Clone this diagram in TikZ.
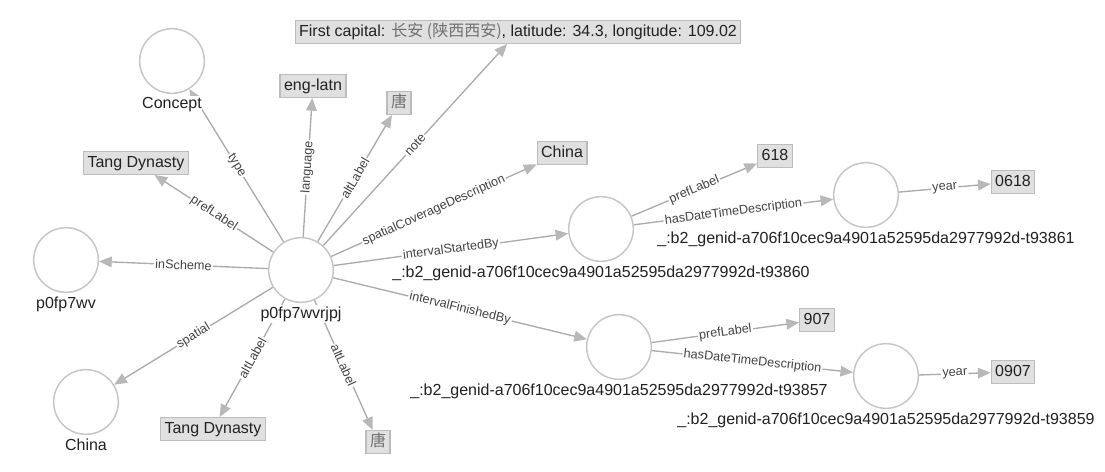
\documentclass[tikz,border=0pt]{standalone}
\usepackage{fontspec}
\setmainfont{Liberation Sans}
\newfontfamily\cjk{Noto Sans CJK SC}
\usetikzlibrary{arrows.meta,backgrounds}
\definecolor{edgec}{HTML}{ABABAB}
\definecolor{circc}{HTML}{C6C6C6}
\definecolor{boxfill}{HTML}{E0E0E0}
\definecolor{boxdraw}{HTML}{BDBDBD}
\definecolor{txt}{HTML}{222222}
\definecolor{elab}{HTML}{444444}
\definecolor{cjkc}{HTML}{707070}
\newcommand{\zh}[1]{{\cjk\color{cjkc}#1}}
\begin{document}
\begin{tikzpicture}[x=0.75pt,y=-0.75pt,
  res/.style={circle,draw=circc,line width=1.1pt,fill=white,minimum size=48.5pt,inner sep=0pt},
  nlab/.style={font=\fontsize{12}{14}\selectfont,text=txt,fill=white,inner xsep=0.5pt,inner ysep=1pt,label distance=1.5pt},
  lit/.style={rectangle,draw=boxdraw,fill=boxfill,line width=0.9pt,font=\fontsize{12}{14}\selectfont,text=txt,text height=9pt,text depth=2.5pt,inner xsep=3pt,inner ysep=2.8pt},
  rel/.style={draw=edgec,line width=1pt,-{Triangle[length=9.5pt,width=8pt,color=edgec!85!white]}},
  elabel/.style={font=\fontsize{9.5}{11}\selectfont,text=elab,fill=white,inner sep=1pt,sloped,midway}]
\useasboundingbox (0,0) rectangle (1105,471);
% resource nodes
\node[res,label={[nlab,name=lc]below:p0fp7wvrjpj}] (c) at (301,270) {};
\node[res,label={[nlab,name=lconcept]below:Concept}] (concept) at (172,61) {};
\node[res,label={[nlab,name=lscheme]below:p0fp7wv}] (scheme) at (66,260) {};
\node[res,label={[nlab,name=lchina]below:China}] (chinaR) at (86,402) {};
\node[res,label={[nlab,name=lstart]below:\_:b2\_genid-a706f10cec9a4901a52595da2977992d-t93860}] (start) at (601,229) {};
\node[res,label={[nlab,name=lstartD]below:\_:b2\_genid-a706f10cec9a4901a52595da2977992d-t93861}] (startD) at (866,195) {};
\node[res,label={[nlab,name=lfin]below:\_:b2\_genid-a706f10cec9a4901a52595da2977992d-t93857}] (fin) at (619,347) {};
\node[res,label={[nlab,name=lfinD]below:\_:b2\_genid-a706f10cec9a4901a52595da2977992d-t93859}] (finD) at (886,376) {};
% literal nodes
\node[lit] (pref) at (136,163) {Tang Dynasty};
\node[lit] (lang) at (313,86) {eng-latn};
\node[lit] (alt1) at (399,103) {\zh{唐}};
\node[lit] (note) at (518,32) {First capital: \zh{长安 (陕西西安)}, latitude: 34.3, longitude: 109.02};
\node[lit] (chinaL) at (562,153) {China};
\node[lit] (p618) at (775,156) {618};
\node[lit] (y0618) at (1013,182) {0618};
\node[lit] (p907) at (817,320) {907};
\node[lit] (y0907) at (1013,372) {0907};
\node[lit] (alt2) at (213,429) {Tang Dynasty};
\node[lit] (alt3) at (378,442) {\zh{唐}};
% edges
\begin{scope}[on background layer]
\draw[rel] (c) -- node[elabel]{type} (concept);
\draw[rel] (c) -- node[elabel]{prefLabel} (pref);
\draw[rel] (c) -- node[elabel]{language} (lang);
\draw[rel] (c) -- node[elabel]{altLabel} (alt1);
\draw[rel] (c) -- node[elabel]{note} (note);
\draw[rel] (c) -- node[elabel]{spatialCoverageDescription} (chinaL);
\draw[rel] (c) -- node[elabel]{inScheme} (scheme);
\draw[rel] (c) -- node[elabel]{spatial} (chinaR);
\draw[rel] (c) -- node[elabel]{altLabel} (alt2);
\draw[rel] (c) -- node[elabel]{altLabel} (alt3);
\draw[rel] (c) -- node[elabel]{intervalStartedBy} (start);
\draw[rel] (c) -- node[elabel]{intervalFinishedBy} (fin);
\draw[rel] (start) -- node[elabel]{prefLabel} (p618);
\draw[rel] (start) -- node[elabel]{hasDateTimeDescription} (startD);
\draw[rel] (startD) -- node[elabel]{year} (y0618);
\draw[rel] (fin) -- node[elabel]{prefLabel} (p907);
\draw[rel] (fin) -- node[elabel]{hasDateTimeDescription} (finD);
\draw[rel] (finD) -- node[elabel]{year} (y0907);
\end{scope}
\end{tikzpicture}
\end{document}
